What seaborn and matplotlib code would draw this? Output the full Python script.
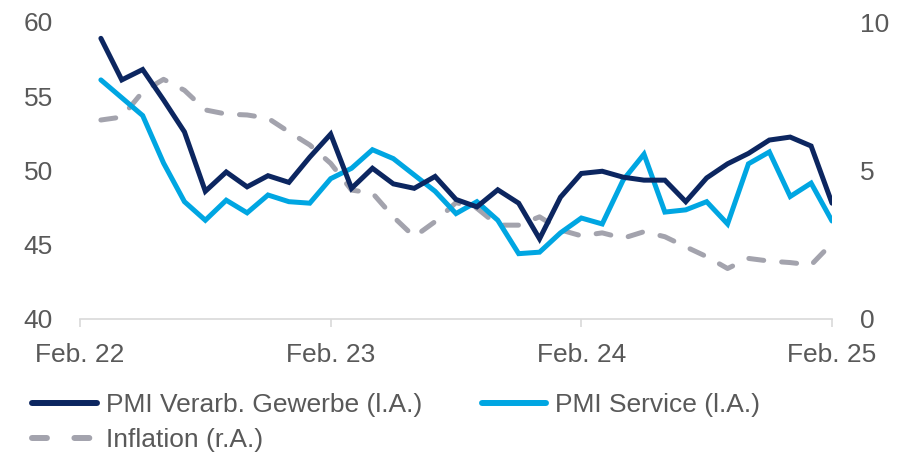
import matplotlib
matplotlib.use("Agg")
import matplotlib.pyplot as plt
import seaborn as sns
import pandas as pd
import numpy as np
from matplotlib.lines import Line2D

# Months Mar 22 .. Feb 25 (positions 1..36 on an axis whose ticks sit at Feb 22/23/24/25)
months = pd.date_range("2022-03-01", "2025-02-01", freq="MS")
tick_labels = ["Feb. 22", "Feb. 23", "Feb. 24", "Feb. 25"]

pmi_manufacturing = [58.9, 56.1, 56.8, 54.75, 52.6, 48.6, 49.9, 48.9, 49.65, 49.2, 50.9, 52.45,
                     48.8, 50.15, 49.1, 48.8, 49.6, 48.05, 47.55, 48.7, 47.8, 45.4, 48.2, 49.8,
                     49.95, 49.55, 49.35, 49.35, 47.9, 49.5, 50.45, 51.15, 52.05, 52.25, 51.65, 47.8]
pmi_service = [56.1, 54.9, 53.7, 50.5, 47.9, 46.65, 48.0, 47.15, 48.35, 47.9, 47.8, 49.45,
               50.15, 51.4, 50.8, 49.7, 48.6, 47.1, 47.9, 46.65, 44.4, 44.5, 45.8, 46.8,
               46.4, 49.35, 51.1, 47.2, 47.35, 47.9, 46.4, 50.45, 51.25, 48.25, 49.15, 46.6]
inflation = [6.7, 6.8, 7.65, 8.07, 7.7, 7.04, 6.9, 6.87, 6.76, 6.3, 5.86, 5.24,
             4.34, 4.24, 3.44, 2.77, 3.28, 3.92, 3.73, 3.16, 3.16, 3.44, 3.0, 2.8,
             2.9, 2.72, 2.94, 2.77, 2.43, 2.1, 1.7, 2.04, 1.95, 1.9, 1.82, 2.55]

labels = ["PMI Verarb. Gewerbe (l.A.)", "PMI Service (l.A.)", "Inflation (r.A.)"]

NAVY = "#0c2660"
CYAN = "#00a6e2"
GREY = "#a3a3ad"
TXT = "#595959"
AXC = "#d9d9d9"
LW = 3.6

sns.set_theme(style="white")
plt.rcParams["font.family"] = ["Liberation Sans", "DejaVu Sans"]

pos = np.arange(1, len(months) + 1)
df = pd.DataFrame({"pos": pos, "man": pmi_manufacturing, "srv": pmi_service, "inf": inflation})

fig = plt.figure(figsize=(9.05, 4.53), dpi=100)
ax = fig.add_axes([80 / 905, 1 - 319 / 453, (832 - 80) / 905, (319 - 22) / 453])
ax2 = ax.twinx()

sns.lineplot(data=df, x="pos", y="inf", ax=ax2, color=GREY, linewidth=LW, legend=False)
ax2.lines[0].set_dashes((3.0, 3.6))
ax2.lines[0].set_dash_capstyle("round")
sns.lineplot(data=df, x="pos", y="srv", ax=ax, color=CYAN, linewidth=LW, legend=False)
sns.lineplot(data=df, x="pos", y="man", ax=ax, color=NAVY, linewidth=LW, legend=False)
for l in ax.lines:
    l.set_solid_joinstyle("miter")

ax.set_zorder(ax2.get_zorder() + 1)
ax.patch.set_visible(False)

ax.set_xlim(0, 36)
ax.set_ylim(40, 60)
ax2.set_ylim(0, 10)
ax.set_yticks([40, 45, 50, 55, 60])
ax2.set_yticks([0, 5, 10])
ax.set_xticks([0, 12, 24, 36])
ax.set_xticklabels(tick_labels)
ax.set_xlabel("")
ax.set_ylabel("")
ax2.set_ylabel("")

for a in (ax, ax2):
    for s in a.spines.values():
        s.set_visible(False)
ax.spines["bottom"].set_visible(True)
ax.spines["bottom"].set_color(AXC)
ax.spines["bottom"].set_linewidth(1.2)

ax.tick_params(axis="x", bottom=True, length=6, width=1.2, color=AXC, labelsize=19,
               labelcolor=TXT, pad=11)
ax.tick_params(axis="y", left=False, length=0, labelsize=19, labelcolor=TXT, pad=19.5)
ax2.tick_params(axis="y", right=False, length=0, labelsize=19, labelcolor=TXT, pad=20)
ax.grid(False)
ax2.grid(False)

h_man = Line2D([], [], color=NAVY, lw=4.3, solid_capstyle="round")
h_srv = Line2D([], [], color=CYAN, lw=4.3, solid_capstyle="round")
h_inf = Line2D([], [], color=GREY, lw=4.3, dashes=(2.5, 4.6), dash_capstyle="round")
leg = fig.legend([h_man, h_inf, h_srv], [labels[0], labels[2], labels[1]], ncol=2,
                 loc="upper left", bbox_to_anchor=(32 / 905, 1 - 393 / 453),
                 frameon=False, fontsize=19, handlelength=2.46, handletextpad=0.34,
                 columnspacing=2.25, labelspacing=0.42, labelcolor=TXT,
                 borderpad=0, borderaxespad=0)

fig.savefig("out.png", dpi=100)
